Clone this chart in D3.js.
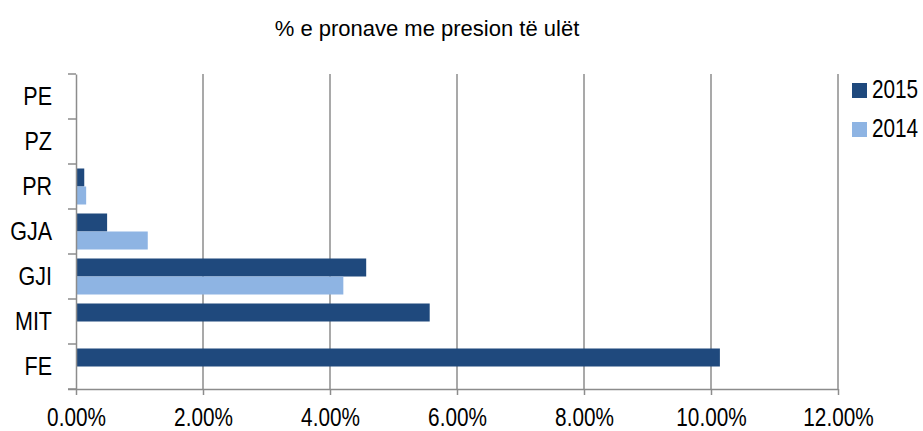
<!DOCTYPE html>
<html>
<head>
<meta charset="utf-8">
<script src="https://cdn.jsdelivr.net/npm/d3@7"></script>
<style>
  body { margin: 0; background: #fff; }
  text { font-family: "Liberation Sans", Arial, sans-serif; fill: #000; }
</style>
</head>
<body>
<script>
/* DATA */
const categories = ["PE", "PZ", "PR", "GJA", "GJI", "MIT", "FE"];
const series = ["2015", "2014"];
const values2015 = [0, 0, 0.0013, 0.0049, 0.0457, 0.0557, 0.1014];
const values2014 = [0, 0, 0.0016, 0.0113, 0.0421, 0, 0];
const xTicks = [0, 0.02, 0.04, 0.06, 0.08, 0.10, 0.12];
const colors = ["#1f497d", "#8eb4e3"];
const title = "% e pronave me presion të ulët";

/* LAYOUT */
const WIDTH = 923, HEIGHT = 431;
const plotLeft = 76, plotRight = 838, plotTop = 74, plotBottom = 389;
const NARROW = 0.83; // the original uses a condensed face

// squeeze text horizontally to mimic Arial Narrow
function narrow(sel, k) {
  sel.each(function() {
    const w = this.getComputedTextLength();
    d3.select(this).attr("textLength", w * (k || NARROW)).attr("lengthAdjust", "spacingAndGlyphs");
  });
}

const svg = d3.select("body").append("svg")
    .attr("width", WIDTH)
    .attr("height", HEIGHT);

const x = d3.scaleLinear().domain([0, 0.12]).range([plotLeft, plotRight]);
const y = d3.scaleBand().domain(categories).range([plotTop, plotBottom]);
const inner = d3.scaleBand().domain(series).range([0, y.bandwidth()]).paddingOuter(0.25).paddingInner(0);

// gridlines
svg.append("g").selectAll("line")
    .data(xTicks.slice(1))
    .join("line")
    .attr("x1", d => x(d)).attr("x2", d => x(d))
    .attr("y1", plotTop).attr("y2", plotBottom)
    .attr("stroke", "#8c8c8c")
    .attr("stroke-width", 1.5);

// bars
const rows = categories.map((c, i) => ({ cat: c, vals: [values2015[i], values2014[i]] }));
svg.append("g").selectAll("g")
    .data(rows)
    .join("g")
    .attr("transform", d => `translate(0,${y(d.cat)})`)
    .selectAll("rect")
    .data(d => d.vals.map((v, j) => ({ s: series[j], v, j })))
    .join("rect")
    .attr("x", x(0))
    .attr("y", d => inner(d.s))
    .attr("width", d => x(d.v) - x(0))
    .attr("height", inner.bandwidth())
    .attr("fill", d => colors[d.j]);

// x axis
const xAxis = svg.append("g")
    .attr("transform", `translate(0,${plotBottom})`)
    .call(d3.axisBottom(x).tickValues(xTicks).tickFormat(d3.format(".2%")).tickSize(6).tickPadding(13));
xAxis.select(".domain").attr("stroke", "#8c8c8c").attr("stroke-width", 1.5).attr("d", `M${plotLeft - 8},0.5H${plotRight}`);
xAxis.selectAll(".tick line").attr("stroke", "#8c8c8c").attr("stroke-width", 1.5);
xAxis.selectAll(".tick text").style("font-size", "25px").call(narrow);

// y axis
const yAxis = svg.append("g")
    .attr("transform", `translate(${plotLeft},0)`)
    .call(d3.axisLeft(y).tickSize(0).tickPadding(24));
yAxis.select(".domain").attr("stroke", "#8c8c8c").attr("stroke-width", 1.5);
yAxis.selectAll(".tick text").style("font-size", "25px").call(narrow, 0.86);
// band boundary ticks
svg.append("g").selectAll("line")
    .data(categories.map(c => y(c)).concat([plotBottom]))
    .join("line")
    .attr("x1", plotLeft - 8).attr("x2", plotLeft)
    .attr("y1", d => d).attr("y2", d => d)
    .attr("stroke", "#8c8c8c")
    .attr("stroke-width", 1.5);

// title
svg.append("text")
    .attr("x", 427).attr("y", 36)
    .attr("text-anchor", "middle")
    .style("font-size", "22px")
    .text(title);

// legend
const legend = svg.append("g").selectAll("g")
    .data(series)
    .join("g")
    .attr("transform", (d, i) => `translate(852,${83 + i * 39})`);
legend.append("rect")
    .attr("width", 15).attr("height", 15)
    .attr("fill", (d, i) => colors[i]);
legend.append("text")
    .attr("transform", `translate(20,15) scale(${NARROW},1)`)
    .style("font-size", "25px")
    .text(d => d);
</script>
</body>
</html>
